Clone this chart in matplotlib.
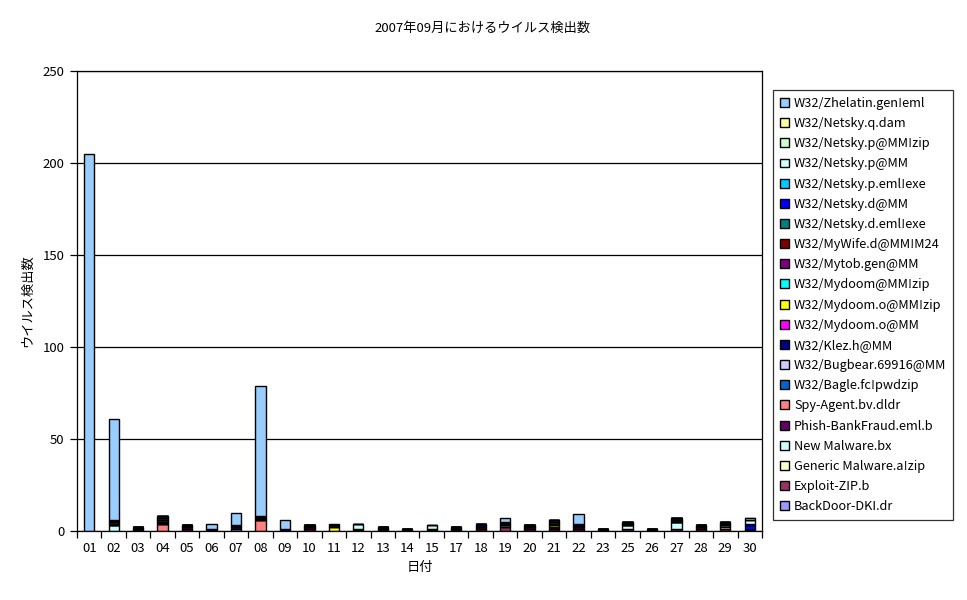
import matplotlib
matplotlib.use("Agg")
from matplotlib import pyplot as plt
import numpy as np

plt.rcParams['font.family'] = ['Noto Sans CJK JP', 'DejaVu Sans']

days = ['01', '02', '03', '04', '05', '06', '07', '08', '09', '10',
        '11', '12', '13', '14', '15', '17', '18', '19', '20', '21',
        '22', '23', '25', '26', '27', '28', '29', '30']

# 系列（下から上へ積み上げる順）
backdoor_dki     = [0, 0, 0, 0, 0, 0, 1, 0, 0, 0, 0, 0, 0, 0, 0, 0, 0, 0, 0, 0, 0, 0, 0, 0, 0, 0, 0, 0]
exploit_zip      = [0, 0, 1, 0, 1, 0, 1, 0, 0, 1, 0, 0, 1, 0, 0, 1, 1, 2, 1, 1, 1, 0, 1, 0, 1, 1, 1, 1]
generic_malware  = [0, 0, 0, 0, 0, 0, 0, 0, 0, 0, 0, 0, 0, 0, 0, 0, 0, 0, 0, 0, 0, 0, 0, 0, 0, 0, 1, 0]
new_malware      = [0, 3, 0, 0, 0, 0, 0, 0, 0, 0, 0, 0, 0, 0, 0, 0, 0, 1, 0, 0, 0, 0, 2, 0, 4, 0, 1, 0]
phish_bank       = [0, 0, 0, 0, 1, 0, 0, 0, 0, 1, 0, 1, 0, 0, 0, 0, 1, 0, 1, 1, 1, 0, 0, 0, 0, 1, 0, 0]
spy_agent        = [0, 0, 0, 4, 0, 0, 0, 6, 0, 0, 0, 0, 0, 0, 0, 0, 0, 0, 0, 0, 0, 0, 0, 0, 0, 0, 0, 0]
bagle            = [0] * 28
bugbear          = [0] * 28
klez             = [0, 1, 1, 1, 1, 1, 1, 1, 1, 1, 0, 0, 1, 1, 1, 1, 1, 1, 1, 0, 1, 1, 1, 1, 1, 1, 1, 0]
mydoom_o_mm      = [0] * 28
mydoom_o_zip     = [0, 0, 0, 0, 0, 0, 0, 0, 0, 0, 2, 0, 0, 0, 0, 0, 0, 0, 0, 1, 0, 0, 0, 0, 0, 0, 0, 0]
mydoom_zip       = [0] * 28
mytob            = [0, 1, 0, 1, 0, 0, 0, 0, 0, 0, 1, 0, 0, 0, 0, 0, 1, 1, 0, 1, 1, 0, 1, 0, 1, 0, 1, 0]
mywife           = [0, 1, 0, 1, 0, 0, 0, 1, 0, 0, 0, 0, 0, 0, 0, 0, 0, 0, 0, 1, 0, 0, 0, 0, 0, 0, 0, 0]
netsky_d_eml     = [0, 0, 0, 1, 0, 0, 0, 0, 0, 0, 0, 0, 0, 0, 0, 0, 0, 0, 0, 1, 0, 0, 0, 0, 0, 0, 0, 0]
netsky_d_mm      = [0, 0, 0, 0, 0, 0, 0, 0, 0, 0, 0, 0, 0, 0, 0, 0, 0, 0, 0, 0, 0, 0, 0, 0, 0, 0, 0, 2]
netsky_p_eml     = [0, 0, 0, 0, 0, 0, 0, 0, 0, 0, 0, 0, 0, 0, 0, 0, 0, 0, 0, 0, 0, 0, 0, 0, 0, 0, 0, 1]
netsky_p_mm      = [0, 0, 0, 0, 0, 0, 0, 0, 0, 0, 0, 3, 0, 0, 0, 0, 0, 0, 0, 0, 0, 0, 0, 0, 0, 0, 0, 2]
netsky_p_zip     = [0, 0, 0, 0, 0, 0, 0, 0, 0, 0, 0, 0, 0, 0, 2, 0, 0, 0, 0, 0, 0, 0, 0, 0, 0, 0, 0, 0]
netsky_q         = [0, 0, 0, 0, 0, 0, 0, 0, 0, 0, 0, 0, 0, 0, 0, 0, 0, 0, 0, 0, 0, 0, 0, 0, 0, 0, 0, 1]
zhelatin         = [205, 55, 0, 0, 0, 3, 7, 71, 5, 0, 1, 0, 0, 0, 0, 0, 0, 2, 0, 0, 5, 0, 0, 0, 0, 0, 0, 0]

names = ['BackDoor-DKI.dr', 'Exploit-ZIP.b', 'Generic Malware.a!zip', 'New Malware.bx',
         'Phish-BankFraud.eml.b', 'Spy-Agent.bv.dldr', 'W32/Bagle.fc!pwdzip',
         'W32/Bugbear.69916@MM', 'W32/Klez.h@MM', 'W32/Mydoom.o@MM', 'W32/Mydoom.o@MM!zip',
         'W32/Mydoom@MM!zip', 'W32/Mytob.gen@MM', 'W32/MyWife.d@MM!M24', 'W32/Netsky.d.eml!exe',
         'W32/Netsky.d@MM', 'W32/Netsky.p.eml!exe', 'W32/Netsky.p@MM', 'W32/Netsky.p@MM!zip',
         'W32/Netsky.q.dam', 'W32/Zhelatin.gen!eml']
series = [backdoor_dki, exploit_zip, generic_malware, new_malware, phish_bank, spy_agent,
          bagle, bugbear, klez, mydoom_o_mm, mydoom_o_zip, mydoom_zip, mytob, mywife,
          netsky_d_eml, netsky_d_mm, netsky_p_eml, netsky_p_mm, netsky_p_zip, netsky_q, zhelatin]
colors = ['#9999FF', '#993366', '#FFFFCC', '#CCFFFF', '#660066', '#FF8080', '#0066CC',
          '#CCCCFF', '#000080', '#FF00FF', '#FFFF00', '#00FFFF', '#800080', '#800000',
          '#008080', '#0000FF', '#00CCFF', '#CCFFFF', '#CCFFCC', '#FFFF99', '#99CCFF']


def do_plt():
    fig = plt.figure(figsize=(9.67, 6.0), dpi=100)
    ax = fig.add_axes([77 / 967, 69 / 600, 685 / 967, 460 / 600])

    x = np.arange(len(days))
    bottom = np.zeros(len(days))
    handles = []
    for name, vals, c in zip(names, series, colors):
        vals = np.array(vals, dtype=float)
        b = ax.bar(x, vals, 0.42, bottom=bottom, color=c, edgecolor='black',
                   linewidth=1.0, label=name)
        handles.append(b)
        bottom += vals

    ax.set_xlim(-0.5, len(days) - 0.5)
    ax.set_ylim(0, 250)
    ax.set_yticks(np.arange(0, 251, 50))
    ax.yaxis.grid(True, color='black', linewidth=0.9)
    ax.set_axisbelow(True)
    ax.set_xticks(x)
    ax.set_xticklabels(days)
    ax.set_xticks(np.arange(-0.5, len(days), 1.0), minor=True)
    ax.tick_params(axis='x', which='major', length=0, pad=8, labelsize=9.5)
    ax.tick_params(axis='x', which='minor', length=5, direction='out', width=0.9)
    ax.tick_params(axis='y', length=5, width=0.9, labelsize=9.5, pad=4)
    for s in ax.spines.values():
        s.set_linewidth(0.9)

    ax.set_xlabel('日付', fontsize=9.5, labelpad=4)
    ax.set_ylabel('ウイルス検出数', fontsize=9.5, labelpad=6)
    fig.text(483 / 967, 1 - 28 / 600, '2007年09月におけるウイルス検出数',
             ha='center', va='center', fontsize=9.5)

    leg = fig.legend(handles[::-1], names[::-1], loc='upper left',
                     bbox_to_anchor=(773 / 967, 1 - 90 / 600), fontsize=9.2,
                     frameon=True, fancybox=False, edgecolor='black',
                     handlelength=0.7, handleheight=0.7, handletextpad=0.4,
                     labelspacing=0.56, borderpad=0.55, borderaxespad=0)
    leg.get_frame().set_linewidth(0.9)

    fig.savefig('out.png', dpi=100)


if __name__ == '__main__':
    do_plt()
